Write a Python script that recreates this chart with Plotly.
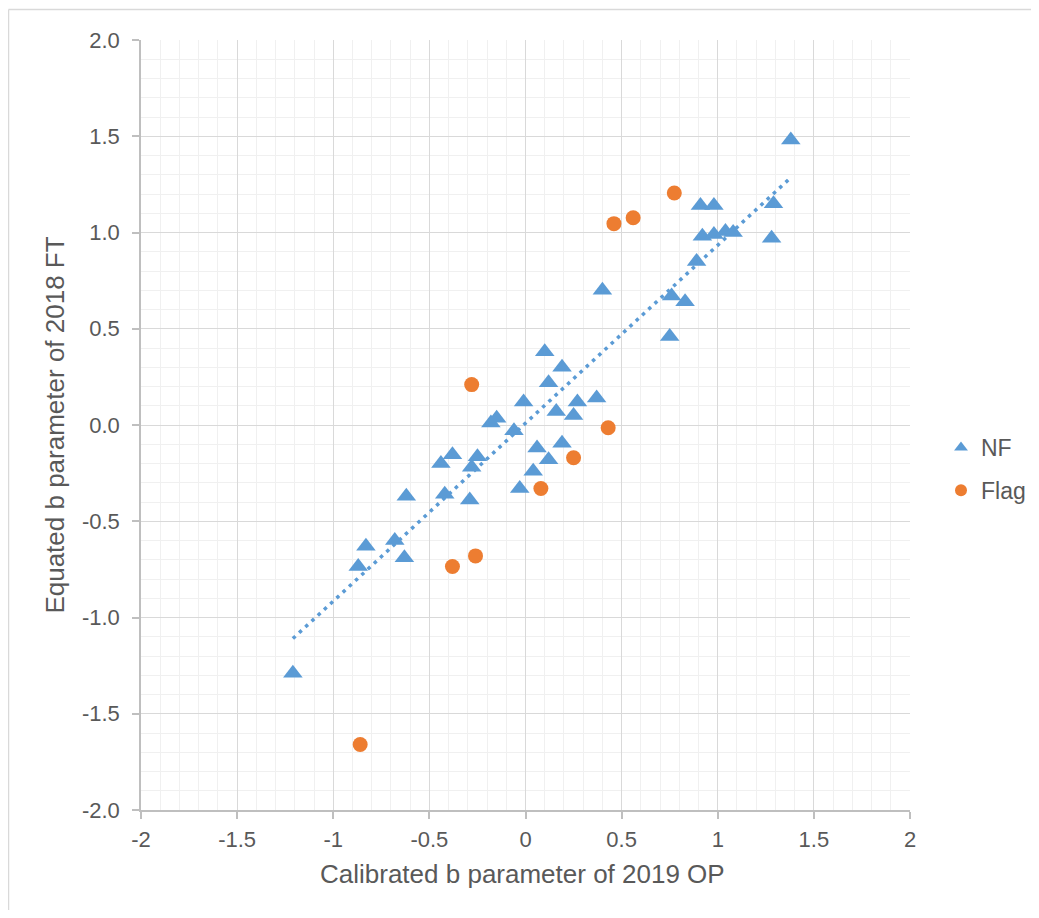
import numpy as np
import plotly.graph_objects as go

# NF series (triangles)
nf_x = [1.38, 0.91, 0.98, 1.29, 1.28, 0.92, 0.98, 1.04, 1.08, 0.89, 0.76, 0.83, 0.75, 0.40,
        0.10, 0.19, 0.12, -0.01, 0.27, 0.37, 0.16, 0.25, -0.06, 0.06, 0.19, 0.12, 0.04, -0.03,
        -0.18, -0.15, -0.38, -0.44, -0.25, -0.28, -0.42, -0.29, -0.62, -0.83, -0.87, -0.68,
        -0.63, -1.21]
nf_y = [1.48, 1.14, 1.14, 1.15, 0.97, 0.98, 0.99, 1.005, 1.00, 0.85, 0.67, 0.64, 0.46, 0.70,
        0.38, 0.30, 0.22, 0.12, 0.12, 0.14, 0.07, 0.05, -0.03, -0.12, -0.095, -0.18, -0.24, -0.33,
        0.01, 0.035, -0.155, -0.20, -0.165, -0.22, -0.36, -0.39, -0.37, -0.63, -0.735, -0.60,
        -0.69, -1.29]

# Flag series (circles)
flag_x = [0.774, 0.56, 0.46, -0.28, 0.43, 0.25, 0.08, -0.38, -0.26, -0.86]
flag_y = [1.205, 1.077, 1.046, 0.21, -0.014, -0.17, -0.33, -0.735, -0.68, -1.66]

x_ticks = [-2, -1.5, -1, -0.5, 0, 0.5, 1, 1.5, 2]
x_tick_labels = ["-2", "-1.5", "-1", "-0.5", "0", "0.5", "1", "1.5", "2"]
y_ticks = [-2.0, -1.5, -1.0, -0.5, 0.0, 0.5, 1.0, 1.5, 2.0]
y_tick_labels = ["-2.0", "-1.5", "-1.0", "-0.5", "0.0", "0.5", "1.0", "1.5", "2.0"]

BLUE = "#5B9BD5"
ORANGE = "#ED7D31"
TXT = "#595959"
FONT = "Liberation Sans, Arial, sans-serif"

# linear trendline on NF series
slope, intercept = np.polyfit(nf_x, nf_y, 1)
tx = np.array([min(nf_x), max(nf_x)])
ty = slope * tx + intercept

fig = go.Figure()
fig.add_trace(go.Scatter(
    x=tx, y=ty, mode="lines", showlegend=False, hoverinfo="skip",
    line=dict(color=BLUE, width=3.5, dash="3.5px,5px")))
fig.add_trace(go.Scatter(
    x=nf_x, y=nf_y, mode="markers", name="NF", legendgroup="nf",
    marker=dict(symbol="triangle-up", size=17, color=BLUE)))
fig.add_trace(go.Scatter(
    x=flag_x, y=flag_y, mode="markers", name="Flag", legendgroup="flag",
    marker=dict(symbol="circle", size=15, color=ORANGE)))

# page has an 8px body margin, so the figure is sized to fit the window
OFF = 8
W, H = 1039 - 2 * OFF, 918 - 2 * OFF
L, R, T, B = 141 - OFF, 910 - OFF, 40 - OFF, 810 - OFF
pw, ph = R - L, B - T

def px(p):
    return (p - OFF - L) / pw

def py(p):
    return (B - (p - OFF)) / ph

# chart-area border (top and left edges visible in the window)
border = dict(color="#d9d9d9", width=1.5)
fig.add_shape(type="line", xref="paper", yref="paper",
              x0=px(8.5), x1=px(1060), y0=py(9.5), y1=py(9.5), line=border, layer="below")
fig.add_shape(type="line", xref="paper", yref="paper",
              x0=px(8.5), x1=px(8.5), y0=py(9.5), y1=py(960), line=border, layer="below")

axis_common = dict(
    automargin=False,
    showline=True, linecolor="#bfbfbf", linewidth=1.5,
    showgrid=True, gridcolor="#d9d9d9", gridwidth=1.3,
    zeroline=False, ticks="outside", ticklen=7, tickcolor="#bfbfbf", tickwidth=1.5,
    tickfont=dict(family=FONT, size=22, color=TXT),
    minor=dict(dtick=0.1, showgrid=True, gridcolor="#f0f0f0", gridwidth=1.3, ticks=""),
)

fig.add_annotation(text="Calibrated b parameter of 2019 OP", xref="paper", yref="paper",
                   x=px(522), y=py(874), xanchor="center", yanchor="middle",
                   showarrow=False, font=dict(family=FONT, size=26, color=TXT))

fig.update_layout(
    width=W, height=H,
    margin=dict(l=L, r=W - R, t=T, b=H - B, autoexpand=False),
    paper_bgcolor="white", plot_bgcolor="white",
    font=dict(family=FONT, color=TXT),
    xaxis=dict(range=[-2, 2], tickvals=x_ticks, ticktext=x_tick_labels,
               ticklabelstandoff=2, **axis_common),
    yaxis=dict(range=[-2, 2], tickvals=y_ticks, ticktext=y_tick_labels,
               ticklabelstandoff=8,
               title=dict(text="Equated b parameter of 2018 FT",
                          font=dict(family=FONT, size=26, color=TXT), standoff=10),
               **axis_common),
    legend=dict(x=px(941), y=py(469), xanchor="left", yanchor="middle",
                font=dict(family=FONT, size=23, color=TXT),
                itemsizing="constant", itemwidth=30, tracegroupgap=10,
                bgcolor="rgba(0,0,0,0)"),
)

fig.write_html("out.html")
